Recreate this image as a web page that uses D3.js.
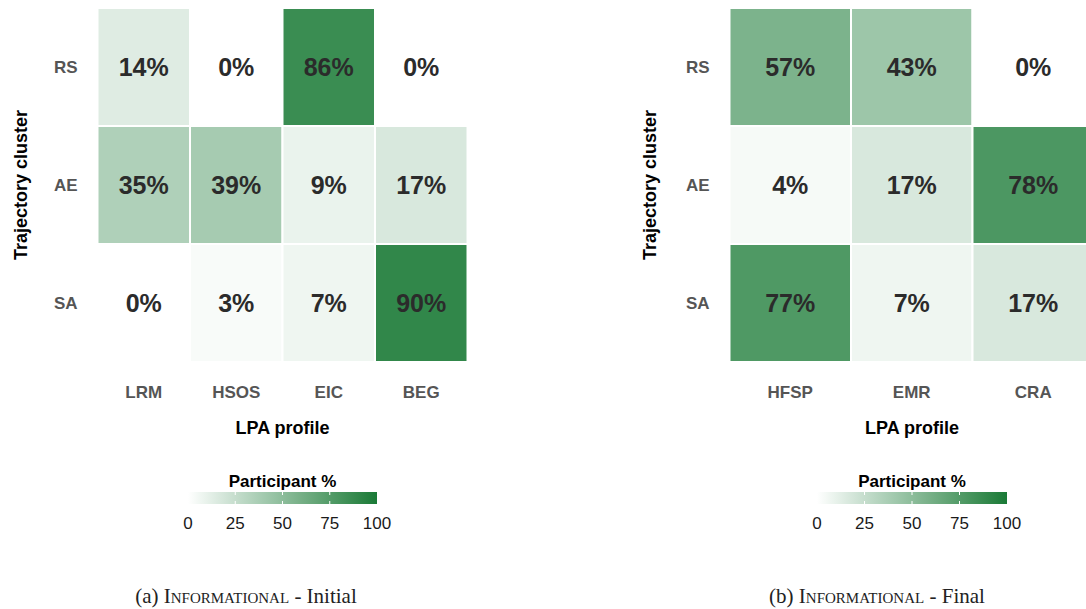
<!DOCTYPE html>
<html><head><meta charset="utf-8">
<script src="https://cdn.jsdelivr.net/npm/d3@7"></script>
<style>body{margin:0;background:#fff}svg{display:block}</style>
</head><body>
<svg id="chart" width="1086" height="609"></svg>
<script>
const rows = ["RS", "AE", "SA"];
const colsInitial = ["LRM", "HSOS", "EIC", "BEG"];
const valuesInitial = [
  [14, 0, 86, 0],
  [35, 39, 9, 17],
  [0, 3, 7, 90]
];
const colsFinal = ["HFSP", "EMR", "CRA"];
const valuesFinal = [
  [57, 43, 0],
  [4, 17, 78],
  [77, 7, 17]
];
const legendTicks = [0, 25, 50, 75, 100];
const captions = [["(a) ", "Informational", " - Initial"], ["(b) ", "Informational", " - Final"]];

const svg = d3.select("#chart");
const color = d3.scaleLinear().domain([0, 100]).range(["#ffffff", "#1a7a36"]).interpolate(d3.interpolateRgb);
const sans = "'Liberation Sans', Arial, sans-serif";

const defs = svg.append("defs");
const grad = defs.append("linearGradient").attr("id", "lg").attr("x1", "0%").attr("x2", "100%");
d3.range(0, 101, 10).forEach(v => grad.append("stop").attr("offset", v + "%").attr("stop-color", color(v)));

function panel(cols, values, xRange, yRange, yTitleX, legendRange, caption, capX) {
  const x = d3.scaleBand().domain(cols).range(xRange);
  const y = d3.scaleBand().domain(rows).range(yRange);
  const g = svg.append("g");
  const cells = [];
  values.forEach((r, i) => r.forEach((v, j) => cells.push({ row: rows[i], col: cols[j], v })));
  g.selectAll("rect.cell").data(cells).join("rect")
    .attr("x", d => x(d.col)).attr("y", d => y(d.row))
    .attr("width", x.bandwidth()).attr("height", y.bandwidth())
    .attr("fill", d => color(d.v)).attr("stroke", "#fff").attr("stroke-width", 2);
  g.selectAll("text.val").data(cells).join("text")
    .attr("x", d => x(d.col) + x.bandwidth() / 2).attr("y", d => y(d.row) + y.bandwidth() / 2)
    .attr("dy", "0.36em").attr("text-anchor", "middle")
    .attr("font-family", sans).attr("font-weight", "bold").attr("font-size", 25)
    .attr("fill", "#2b2b2b").text(d => d.v + "%");
  g.selectAll("text.row").data(rows).join("text")
    .attr("x", xRange[0] - 20).attr("y", d => y(d) + y.bandwidth() / 2)
    .attr("dy", "0.36em").attr("text-anchor", "end")
    .attr("font-family", sans).attr("font-weight", "bold").attr("font-size", 17)
    .attr("fill", "#555").text(d => d);
  g.selectAll("text.col").data(cols).join("text")
    .attr("x", d => x(d) + x.bandwidth() / 2).attr("y", 398)
    .attr("text-anchor", "middle")
    .attr("font-family", sans).attr("font-weight", "bold").attr("font-size", 17)
    .attr("fill", "#555").text(d => d);
  g.append("text").attr("x", (legendRange[0] + legendRange[1]) / 2).attr("y", 434)
    .attr("text-anchor", "middle").attr("font-family", sans).attr("font-weight", "bold")
    .attr("font-size", 18).attr("fill", "#000").text("LPA profile");
  g.append("text").attr("transform", `translate(${yTitleX},${(yRange[0] + yRange[1]) / 2}) rotate(-90)`)
    .attr("text-anchor", "middle").attr("font-family", sans).attr("font-weight", "bold")
    .attr("font-size", 18).attr("fill", "#000").text("Trajectory cluster");
  const lx = d3.scaleLinear().domain([0, 100]).range(legendRange);
  const lg = svg.append("g");
  lg.append("text").attr("x", (legendRange[0] + legendRange[1]) / 2).attr("y", 487)
    .attr("text-anchor", "middle").attr("font-family", sans).attr("font-weight", "bold")
    .attr("font-size", 17).attr("fill", "#000").text("Participant %");
  lg.append("rect").attr("x", legendRange[0]).attr("y", 492)
    .attr("width", legendRange[1] - legendRange[0]).attr("height", 12).attr("fill", "url(#lg)");
  legendTicks.filter(t => t > 0 && t < 100).forEach(t => {
    lg.append("line").attr("x1", lx(t)).attr("x2", lx(t)).attr("y1", 492).attr("y2", 495)
      .attr("stroke", "#fff").attr("stroke-width", 1);
    lg.append("line").attr("x1", lx(t)).attr("x2", lx(t)).attr("y1", 501).attr("y2", 504)
      .attr("stroke", "#fff").attr("stroke-width", 1);
  });
  lg.selectAll("text.tick").data(legendTicks).join("text")
    .attr("x", d => lx(d)).attr("y", 529).attr("text-anchor", "middle")
    .attr("font-family", sans).attr("font-size", 17).attr("fill", "#1a1a1a").text(d => d);
  const cap = svg.append("text").attr("x", capX).attr("y", 603).attr("text-anchor", "middle")
    .attr("font-family", "'Liberation Serif', 'DejaVu Serif', serif").attr("font-size", 21)
    .attr("fill", "#222");
  cap.append("tspan").text(caption[0]);
  cap.append("tspan").attr("font-variant", "small-caps").text(caption[1]);
  cap.append("tspan").text(caption[2]);
}

panel(colsInitial, valuesInitial, [97.5, 467.5], [8, 362], 27, [188, 377], captions[0], 246);
panel(colsFinal, valuesFinal, [729.5, 1094], [8, 362], 656, [817, 1007], captions[1], 877);
</script>
</body></html>
